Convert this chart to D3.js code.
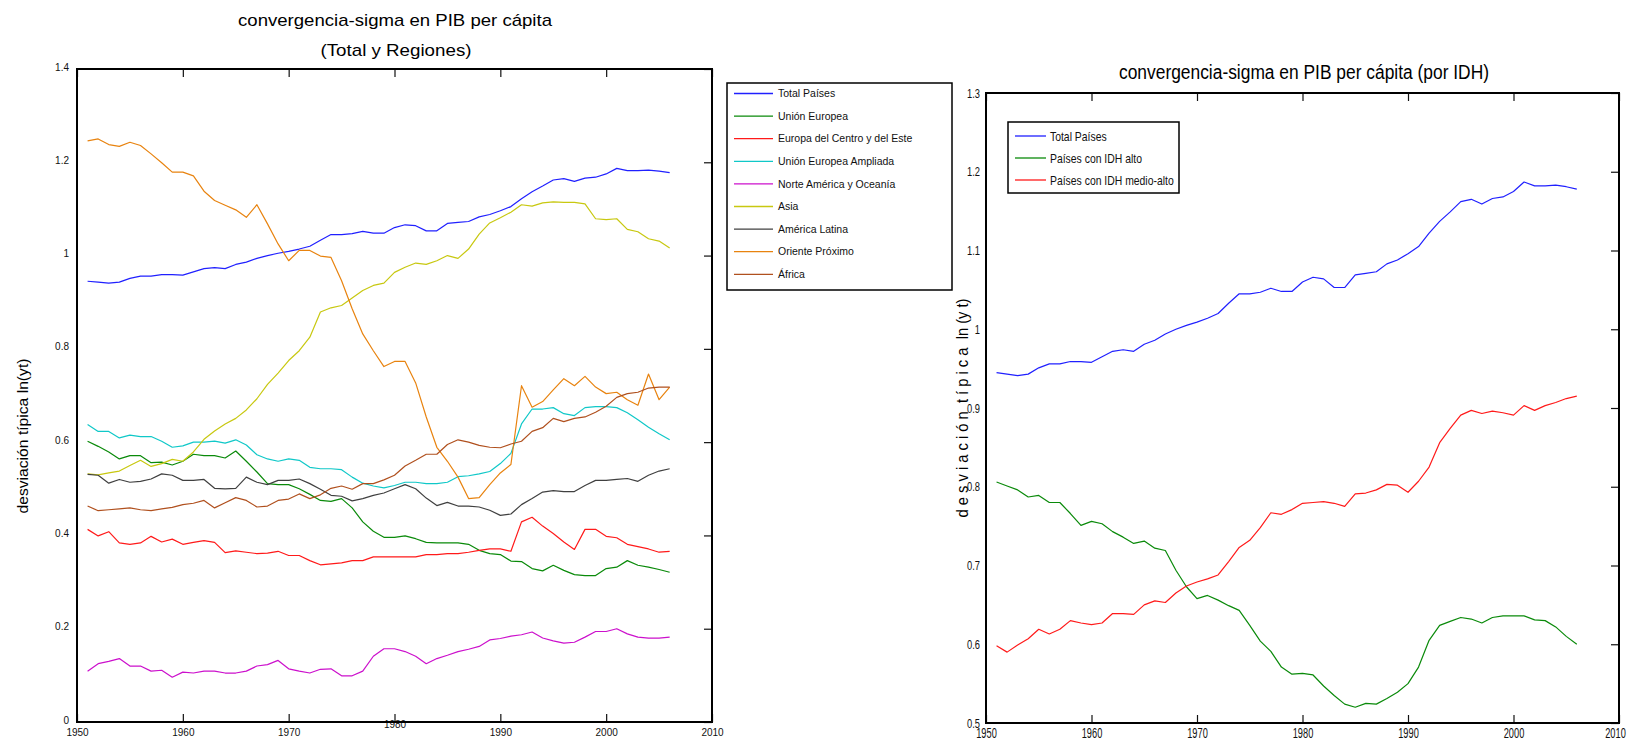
<!DOCTYPE html>
<html>
<head>
<meta charset="utf-8">
<script src="https://cdn.jsdelivr.net/npm/d3@7"></script>
<style>
  body { margin: 0; background: #fff; }
  svg { display: block; font-family: "Liberation Sans", Arial, sans-serif; }
</style>
</head>
<body>
<div id="chart"></div>
<script>
const years = [1951,1952,1953,1954,1955,1956,1957,1958,1959,1960,
  1961,1962,1963,1964,1965,1966,1967,1968,1969,1970,
  1971,1972,1973,1974,1975,1976,1977,1978,1979,1980,
  1981,1982,1983,1984,1985,1986,1987,1988,1989,1990,
  1991,1992,1993,1994,1995,1996,1997,1998,1999,2000,
  2001,2002,2003,2004,2005,2006];

const xTicks = [1950, 1960, 1970, 1980, 1990, 2000, 2010];
const leftYTicks = [0, 0.2, 0.4, 0.6, 0.8, 1, 1.2, 1.4];
const rightYTicks = [0.5, 0.6, 0.7, 0.8, 0.9, 1, 1.1, 1.2, 1.3];

const totalPaises = [0.945,0.943,0.941,0.943,0.951,0.956,0.956,0.959,0.959,0.958,
  0.965,0.972,0.974,0.972,0.981,0.986,0.994,1.000,1.005,1.009,
  1.014,1.020,1.033,1.045,1.045,1.047,1.052,1.048,1.048,1.060,
  1.066,1.064,1.053,1.053,1.069,1.071,1.073,1.083,1.088,1.096,
  1.105,1.122,1.137,1.149,1.162,1.165,1.159,1.166,1.168,1.175,
  1.187,1.182,1.182,1.183,1.181,1.178];

const unionEuropea = [0.602,0.591,0.579,0.564,0.571,0.571,0.556,0.557,0.551,0.559,
  0.574,0.571,0.571,0.566,0.581,0.559,0.536,0.511,0.509,0.509,
  0.500,0.488,0.475,0.473,0.479,0.459,0.429,0.409,0.396,0.396,
  0.399,0.393,0.385,0.384,0.384,0.384,0.381,0.368,0.361,0.359,
  0.345,0.344,0.329,0.324,0.336,0.325,0.316,0.314,0.314,0.329,
  0.332,0.346,0.336,0.332,0.327,0.321];

const europaCentroEste = [0.413,0.399,0.408,0.384,0.381,0.384,0.398,0.386,0.392,0.381,
  0.385,0.389,0.385,0.363,0.367,0.364,0.361,0.362,0.366,0.357,
  0.357,0.346,0.337,0.339,0.341,0.346,0.346,0.354,0.354,0.354,
  0.354,0.354,0.359,0.359,0.361,0.361,0.364,0.368,0.371,0.371,
  0.366,0.429,0.439,0.420,0.404,0.386,0.370,0.413,0.413,0.398,
  0.395,0.381,0.376,0.371,0.364,0.366];

const ueAmpliada = [0.638,0.623,0.623,0.609,0.615,0.612,0.612,0.602,0.589,0.592,
  0.600,0.600,0.602,0.598,0.605,0.594,0.573,0.564,0.559,0.564,
  0.561,0.546,0.543,0.543,0.541,0.525,0.512,0.506,0.502,0.507,
  0.514,0.514,0.511,0.511,0.514,0.526,0.528,0.532,0.537,0.554,
  0.576,0.639,0.671,0.671,0.674,0.661,0.657,0.674,0.676,0.676,
  0.674,0.663,0.648,0.632,0.618,0.605];

const norteAmerica = [0.109,0.125,0.130,0.136,0.120,0.120,0.109,0.111,0.096,0.107,
  0.105,0.109,0.109,0.105,0.105,0.109,0.120,0.123,0.132,0.114,
  0.109,0.105,0.113,0.114,0.099,0.099,0.109,0.141,0.157,0.157,
  0.151,0.141,0.125,0.136,0.143,0.151,0.156,0.162,0.176,0.179,
  0.184,0.187,0.193,0.180,0.174,0.169,0.171,0.182,0.194,0.194,
  0.200,0.189,0.182,0.180,0.180,0.182];

const asia = [0.532,0.530,0.534,0.538,0.550,0.561,0.548,0.554,0.563,0.559,
  0.579,0.606,0.624,0.639,0.651,0.669,0.693,0.724,0.748,0.775,
  0.796,0.825,0.879,0.888,0.893,0.909,0.925,0.936,0.941,0.964,
  0.975,0.984,0.981,0.989,1.000,0.994,1.014,1.046,1.070,1.081,
  1.093,1.109,1.106,1.113,1.115,1.114,1.114,1.111,1.079,1.077,
  1.079,1.056,1.051,1.036,1.031,1.016];

const americaLatina = [0.531,0.529,0.512,0.520,0.514,0.516,0.521,0.532,0.529,0.518,
  0.518,0.520,0.501,0.500,0.501,0.525,0.514,0.509,0.518,0.518,
  0.521,0.511,0.499,0.486,0.484,0.474,0.479,0.486,0.491,0.500,
  0.509,0.500,0.480,0.464,0.471,0.463,0.463,0.461,0.454,0.443,
  0.446,0.466,0.479,0.493,0.496,0.494,0.494,0.507,0.518,0.518,
  0.520,0.522,0.516,0.529,0.538,0.543];

const orienteProximo = [1.246,1.250,1.238,1.234,1.243,1.236,1.218,1.199,1.179,1.179,
  1.171,1.138,1.118,1.108,1.098,1.082,1.109,1.068,1.025,0.989,
  1.011,1.011,0.999,0.996,0.946,0.886,0.832,0.796,0.762,0.773,
  0.773,0.727,0.654,0.589,0.559,0.525,0.479,0.481,0.509,0.534,
  0.552,0.721,0.675,0.687,0.712,0.736,0.721,0.741,0.718,0.704,
  0.707,0.691,0.679,0.746,0.691,0.718];

const africa = [0.463,0.453,0.455,0.457,0.459,0.455,0.453,0.457,0.460,0.466,
  0.469,0.475,0.459,0.470,0.481,0.475,0.461,0.463,0.475,0.478,
  0.489,0.479,0.487,0.501,0.506,0.499,0.511,0.511,0.519,0.529,
  0.549,0.561,0.574,0.574,0.595,0.605,0.600,0.593,0.589,0.588,
  0.596,0.602,0.623,0.631,0.651,0.644,0.651,0.654,0.664,0.677,
  0.696,0.704,0.707,0.716,0.718,0.718];

const idhAlto = [0.806,0.801,0.796,0.787,0.789,0.780,0.780,0.766,0.751,0.756,
  0.753,0.743,0.736,0.728,0.731,0.722,0.719,0.694,0.673,0.658,
  0.662,0.656,0.649,0.643,0.624,0.604,0.591,0.571,0.562,0.563,
  0.561,0.547,0.535,0.524,0.520,0.525,0.524,0.531,0.539,0.550,
  0.571,0.605,0.624,0.629,0.634,0.632,0.627,0.634,0.636,0.636,
  0.636,0.631,0.630,0.622,0.610,0.600];

const idhMedioAlto = [0.598,0.590,0.599,0.607,0.619,0.613,0.619,0.630,0.627,0.625,
  0.627,0.639,0.639,0.638,0.650,0.655,0.653,0.665,0.674,0.679,
  0.683,0.688,0.705,0.723,0.732,0.748,0.767,0.765,0.771,0.779,
  0.780,0.781,0.779,0.775,0.791,0.792,0.796,0.803,0.802,0.793,
  0.807,0.825,0.856,0.874,0.891,0.897,0.893,0.896,0.894,0.891,
  0.903,0.897,0.903,0.907,0.912,0.915];

const regionNames = ["Total Países", "Unión Europea", "Europa del Centro y del Este",
  "Unión Europea Ampliada", "Norte América y Oceanía", "Asia", "América Latina",
  "Oriente Próximo", "África"];
const regionValues = [totalPaises, unionEuropea, europaCentroEste, ueAmpliada,
  norteAmerica, asia, americaLatina, orienteProximo, africa];
const regionColors = ["#2020ff", "#0a8a0a", "#ff1a1a", "#10c8c8", "#cc10cc",
  "#c8c810", "#404040", "#e8830f", "#b0501e"];

const idhNames = ["Total Países", "Países con IDH alto", "Países con IDH medio-alto"];
const idhValues = [totalPaises, idhAlto, idhMedioAlto];
const idhColors = ["#2020ff", "#0a8a0a", "#ff1a1a"];

const width = 1632, height = 744;
const svg = d3.select("#chart").append("svg")
    .attr("width", width)
    .attr("height", height);

// squeeze text like the narrow font of the original
function squeeze(sel, k) {
    sel.each(function () {
        const len = this.getComputedTextLength();
        d3.select(this).attr("textLength", len * k).attr("lengthAdjust", "spacingAndGlyphs");
    });
}

function drawPanel(opts) {
    const x = d3.scaleLinear().domain([1950, 2010]).range([opts.left, opts.right]);
    const y = d3.scaleLinear().domain(opts.yDomain).range([opts.bottom, opts.top]);
    const g = svg.append("g");

    // frame ticks (inward, top/bottom/right)
    const gb = g.append("g")
        .attr("transform", `translate(0,${opts.bottom})`)
        .call(d3.axisBottom(x).tickValues(xTicks).tickSizeInner(-8).tickSizeOuter(0)
            .tickPadding(opts.xPad).tickFormat(d3.format("d")));
    g.append("g")
        .attr("transform", `translate(0,${opts.top})`)
        .call(d3.axisTop(x).tickValues(xTicks).tickSizeInner(-8).tickSizeOuter(0).tickFormat(""));
    g.append("g")
        .attr("transform", `translate(${opts.right},0)`)
        .call(d3.axisRight(y).tickValues(opts.yTicks).tickSizeInner(-8).tickSizeOuter(0).tickFormat(""));
    const gl = g.append("g")
        .attr("transform", `translate(${opts.left},0)`)
        .call(d3.axisLeft(y).tickValues(opts.yTicks).tickSize(0).tickPadding(opts.yPad)
            .tickFormat(d => String(d)));

    g.selectAll(".domain").attr("stroke", "none");
    g.selectAll(".tick line").attr("stroke", "#111").attr("stroke-width", 1.2);
    g.selectAll(".tick text").attr("fill", "#111").style("font-size", opts.tickFont + "px");
    gl.selectAll(".tick text").attr("dy", opts.yDy);

    // axes box
    g.append("rect")
        .attr("x", opts.left).attr("y", opts.top)
        .attr("width", opts.right - opts.left).attr("height", opts.bottom - opts.top)
        .attr("fill", "none").attr("stroke", "#000").attr("stroke-width", 2);

    const line = d3.line().x((d, i) => x(years[i])).y(d => y(d));
    g.append("g").selectAll("path")
        .data(opts.values)
        .join("path")
        .attr("d", line)
        .attr("fill", "none")
        .attr("stroke", (d, i) => opts.colors[i])
        .attr("stroke-width", 1.2)
        .attr("stroke-linejoin", "round");

    return { g, gb, gl };
}

// ---------- left panel ----------
const left = drawPanel({
    left: 77, right: 712, top: 69, bottom: 722,
    yDomain: [0, 1.4], yTicks: leftYTicks,
    values: regionValues, colors: regionColors,
    xPad: 7, yPad: 8, tickFont: 10, yDy: "0.1em"
});
// the 1980 label sits a bit higher in the original
left.gb.selectAll(".tick text").filter(d => d === 1980).attr("y", -1);

svg.append("text")
    .attr("x", 395).attr("y", 26)
    .attr("text-anchor", "middle")
    .style("font-size", "17px")
    .attr("textLength", 314).attr("lengthAdjust", "spacingAndGlyphs")
    .text("convergencia-sigma en PIB per cápita");
svg.append("text")
    .attr("x", 396).attr("y", 56)
    .attr("text-anchor", "middle")
    .style("font-size", "17px")
    .attr("textLength", 151).attr("lengthAdjust", "spacingAndGlyphs")
    .text("(Total y Regiones)");
svg.append("text")
    .attr("transform", "translate(28,436) rotate(-90)")
    .attr("text-anchor", "middle")
    .style("font-size", "15px")
    .attr("textLength", 155).attr("lengthAdjust", "spacingAndGlyphs")
    .text("desviación típica ln(yt)");

// left legend
const legL = svg.append("g");
legL.append("rect")
    .attr("x", 727).attr("y", 83).attr("width", 225).attr("height", 207)
    .attr("fill", "#fff").attr("stroke", "#000").attr("stroke-width", 1.5);
const legLRows = legL.selectAll("g.row")
    .data(regionNames)
    .join("g")
    .attr("class", "row")
    .attr("transform", (d, i) => `translate(0,${93.5 + i * 22.6})`);
legLRows.append("line")
    .attr("x1", 734).attr("x2", 773)
    .attr("stroke", (d, i) => regionColors[i]).attr("stroke-width", 1.3);
legLRows.append("text")
    .attr("x", 778).attr("dy", "0.35em")
    .style("font-size", "10.5px").attr("fill", "#111")
    .text(d => d);

// ---------- right panel ----------
const right = drawPanel({
    left: 986, right: 1619, top: 93, bottom: 723,
    yDomain: [0.5, 1.3], yTicks: rightYTicks,
    values: idhValues, colors: idhColors,
    xPad: 5, yPad: 6, tickFont: 13, yDy: "0.32em"
});
right.gb.selectAll(".tick text").style("font-size", "14px");
squeeze(right.gb.selectAll(".tick text"), 0.66);
squeeze(right.gl.selectAll(".tick text"), 0.72);
right.gb.selectAll(".tick text").filter(d => d === 2010).attr("x", -4);

svg.append("text")
    .attr("x", 1304).attr("y", 79)
    .attr("text-anchor", "middle")
    .style("font-size", "20px")
    .attr("textLength", 370).attr("lengthAdjust", "spacingAndGlyphs")
    .text("convergencia-sigma en PIB per cápita (por IDH)");
svg.append("text")
    .attr("transform", "translate(968,408) rotate(-90)")
    .attr("text-anchor", "middle")
    .style("font-size", "17px")
    .style("white-space", "pre")
    .attr("xml:space", "preserve")
    .attr("textLength", 219).attr("lengthAdjust", "spacingAndGlyphs")
    .text("d e s v i a c i ó n  t í p i c a  ln (y t)");

// right legend
const legR = svg.append("g");
legR.append("rect")
    .attr("x", 1008).attr("y", 122).attr("width", 171).attr("height", 71)
    .attr("fill", "#fff").attr("stroke", "#000").attr("stroke-width", 1.5);
const legRRows = legR.selectAll("g.row")
    .data(idhNames)
    .join("g")
    .attr("class", "row")
    .attr("transform", (d, i) => `translate(0,${136 + i * 22})`);
legRRows.append("line")
    .attr("x1", 1015).attr("x2", 1046)
    .attr("stroke", (d, i) => idhColors[i]).attr("stroke-width", 1.3);
const legRText = legRRows.append("text")
    .attr("x", 1050).attr("dy", "0.35em")
    .style("font-size", "13px").attr("fill", "#111")
    .text(d => d);
squeeze(legRText, 0.8);
</script>
</body>
</html>
